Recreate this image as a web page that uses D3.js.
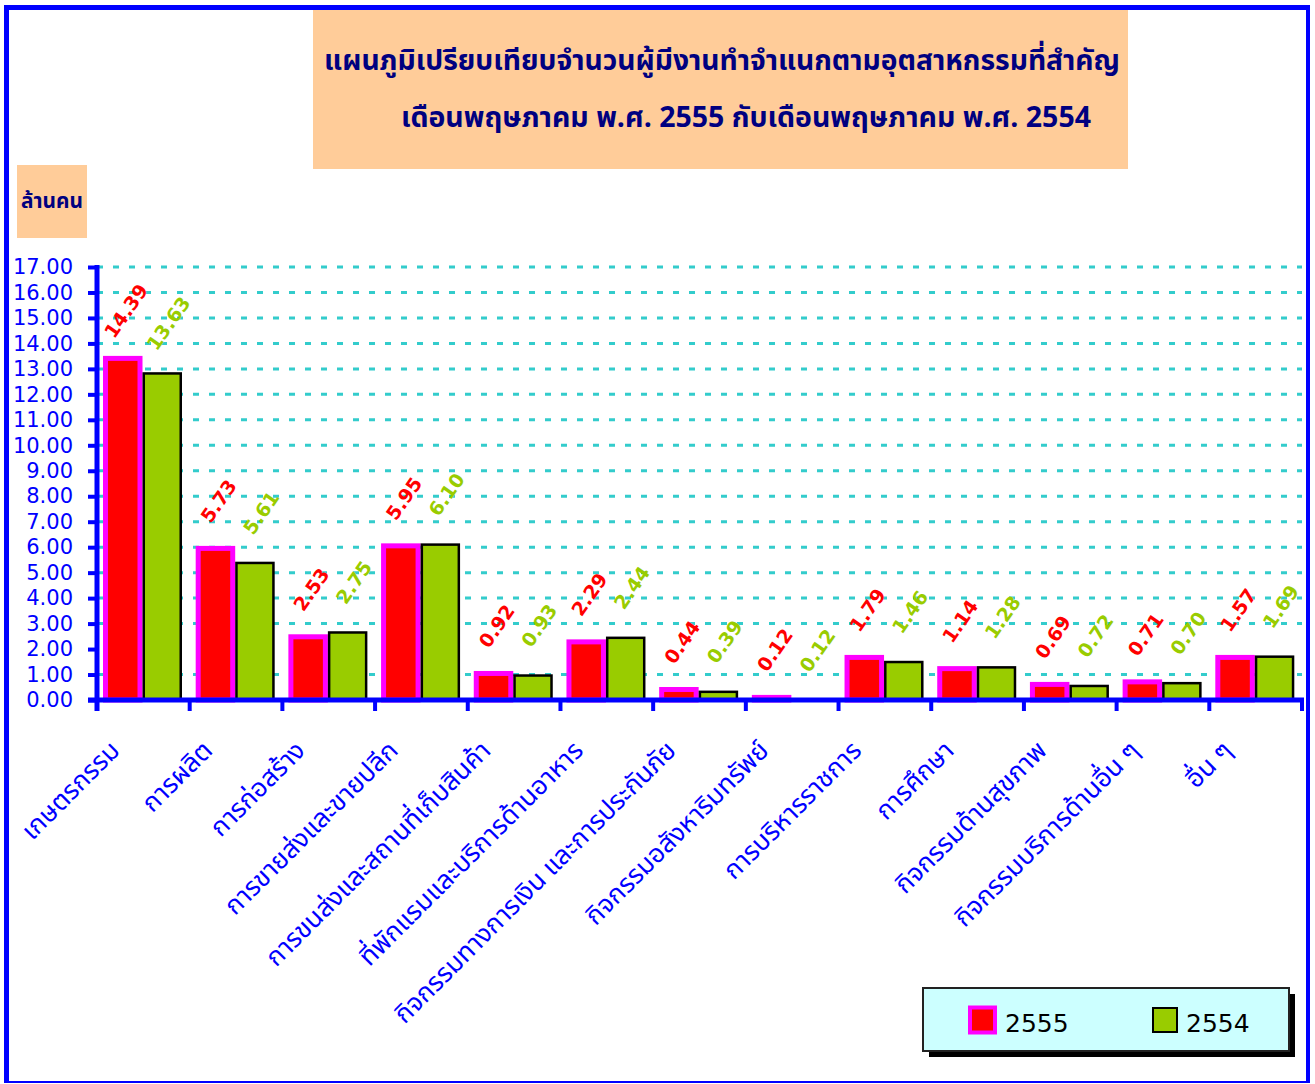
<!DOCTYPE html>
<html><head><meta charset="utf-8">
<script src="https://cdn.jsdelivr.net/npm/d3@7"></script>
<style>body{margin:0;background:#fff} svg{display:block}</style>
</head><body><svg id="c" width="1315" height="1084"></svg>
<script>
// ---------- data ----------
const categories = [
  "เกษตรกรรม","การผลิต","การก่อสร้าง","การขายส่งและขายปลีก",
  "การขนส่งและสถานที่เก็บสินค้า","ที่พักแรมและบริการด้านอาหาร",
  "กิจกรรมทางการเงิน และการประกันภัย","กิจกรรมอสังหาริมทรัพย์",
  "การบริหารราชการ","การศึกษา","กิจกรรมด้านสุขภาพ",
  "กิจกรรมบริการด้านอื่น ๆ","อื่น ๆ"
];
const seriesNames = ["2555","2554"];
// bar heights as drawn in the picture (ล้านคน)
const values2555 = [13.51,6.05,2.58,6.15,1.14,2.38,0.51,0.20,1.77,1.33,0.71,0.81,1.77];
const values2554 = [12.87,5.43,2.70,6.15,1.01,2.49,0.37,0.03,1.54,1.33,0.60,0.71,1.75];
// printed data labels
const labels2555 = ["14.39","5.73","2.53","5.95","0.92","2.29","0.44","0.12","1.79","1.14","0.69","0.71","1.57"];
const labels2554 = ["13.63","5.61","2.75","6.10","0.93","2.44","0.39","0.12","1.46","1.28","0.72","0.70","1.69"];
const yTicks = d3.range(0, 18);
const gridTicks = [1,3,4,5,6,7,8,9,10,11,12,13,14,15,16,17];
const titleLines = ["แผนภูมิเปรียบเทียบจำนวนผู้มีงานทำจำแนกตามอุตสาหกรรมที่สำคัญ",
                    "เดือนพฤษภาคม พ.ศ. 2555 กับเดือนพฤษภาคม พ.ศ. 2554"];
const yAxisTitle = "ล้านคน";

// ---------- layout ----------
const thaiFont = "Tahoma, 'Noto Sans Thai', 'Noto Sans Thai UI', 'Noto Sans', 'DejaVu Sans', sans-serif";
const numFont = "'DejaVu Sans', Verdana, sans-serif";
const svg = d3.select("#c");
const X0 = 97, X1 = 1302, YT = 267, YB = 700;
const x = d3.scaleBand().domain(categories).range([X0, X1]);
const xs = d3.scaleBand().domain(seriesNames).range([6, 85]);
const y = d3.scaleLinear().domain([0, 17]).range([YB, YT]);

function fit(sel, target) {
  const n = sel.node();
  const fs = parseFloat(sel.attr("font-size"));
  const w = n.getComputedTextLength();
  if (w > 0) sel.attr("font-size", (fs * target / w).toFixed(2));
}

// frame
const blue = "#0000FF";
svg.append("line").attr("x1",6.5).attr("x2",6.5).attr("y1",5).attr("y2",1083).attr("stroke",blue).attr("stroke-width",5);
svg.append("line").attr("x1",4).attr("x2",1310).attr("y1",7.5).attr("y2",7.5).attr("stroke",blue).attr("stroke-width",5);
svg.append("line").attr("x1",1308).attr("x2",1308).attr("y1",5).attr("y2",1083).attr("stroke",blue).attr("stroke-width",4);
svg.append("line").attr("x1",4).attr("x2",1310).attr("y1",1082).attr("y2",1082).attr("stroke",blue).attr("stroke-width",2);

// title box
svg.append("rect").attr("x",313).attr("y",10).attr("width",815).attr("height",159).attr("fill","#FFCC99");
const t1 = svg.append("text").attr("x",722).attr("y",70).attr("text-anchor","middle")
  .attr("font-family",thaiFont).attr("font-weight","bold").attr("font-size",28).attr("fill","#000080").text(titleLines[0]);
fit(t1, 796);
const t2 = svg.append("text").attr("x",746).attr("y",127).attr("text-anchor","middle")
  .attr("font-family",thaiFont).attr("font-weight","bold").attr("font-size",28).attr("fill","#000080").text(titleLines[1]);
fit(t2, 690);

// y title box
svg.append("rect").attr("x",17).attr("y",165).attr("width",70).attr("height",73).attr("fill","#FFCC99");
const yt = svg.append("text").attr("x",52).attr("y",208).attr("text-anchor","middle")
  .attr("font-family",thaiFont).attr("font-weight","bold").attr("font-size",18).attr("fill","#000080").text(yAxisTitle);
fit(yt, 62);

// grid
svg.append("g").selectAll("line").data(gridTicks).join("line")
  .attr("x1",X0).attr("x2",X1).attr("y1",d=>y(d)).attr("y2",d=>y(d))
  .attr("stroke","#33CCCC").attr("stroke-width",3).attr("stroke-dasharray","6,10");

// bars
const rows = categories.map((c,i)=>({c, v:[values2555[i],values2554[i]], l:[labels2555[i],labels2554[i]]}));
const bw = xs.bandwidth();
const gBars = svg.append("g");
rows.forEach(r=>{
  const xr = x(r.c) + xs("2555"), xg = x(r.c) + xs("2554");
  gBars.append("rect").attr("x",xr+2.5).attr("y",y(r.v[0])+2.5).attr("width",bw-5)
    .attr("height",Math.max(0,YB-y(r.v[0])-2.5)).attr("fill","#FF0000").attr("stroke","#FF00FF").attr("stroke-width",5);
  gBars.append("rect").attr("x",xg+1.25).attr("y",y(r.v[1])+1.25).attr("width",bw-2.5)
    .attr("height",Math.max(0,YB-y(r.v[1])-1.25)).attr("fill","#99CC00").attr("stroke","#000").attr("stroke-width",2.5);
});

// value labels
const gLab = svg.append("g").attr("font-family",numFont).attr("font-weight","bold").attr("font-size",19);
rows.forEach(r=>{
  [[0,"2555","#FF0000",3,45],[1,"2554","#99CC00",6,49]].forEach(([k,s,col,dx,dy])=>{
    const cx = x(r.c)+xs(s)+bw/2+dx, cy = y(r.v[k])-dy;
    gLab.append("text").attr("transform",`translate(${cx},${cy}) rotate(-55)`)
      .attr("text-anchor","middle").attr("dominant-baseline","central").attr("fill",col).text(r.l[k]);
  });
});

// y axis
const ya = svg.append("g").attr("transform",`translate(${X0},0)`)
  .call(d3.axisLeft(y).tickValues(yTicks).tickFormat(d3.format(".2f")).tickSize(9).tickSizeOuter(0).tickPadding(15));
ya.select(".domain").remove();
ya.selectAll(".tick line").attr("stroke",blue).attr("stroke-width",4);
ya.selectAll(".tick text").attr("fill",blue).attr("font-size",21).attr("font-family",numFont);
svg.append("line").attr("x1",X0).attr("x2",X0).attr("y1",265).attr("y2",711).attr("stroke",blue).attr("stroke-width",5);

// x axis
svg.append("line").attr("x1",88).attr("x2",X1+2).attr("y1",YB).attr("y2",YB).attr("stroke",blue).attr("stroke-width",5);
const xt = categories.map(c=>x(c)).concat([X1]);
svg.append("g").selectAll("line").data(xt).join("line")
  .attr("x1",d=>d).attr("x2",d=>d).attr("y1",YB).attr("y2",711).attr("stroke",blue).attr("stroke-width",4);
svg.append("g").selectAll("text").data(categories).join("text")
  .attr("transform",d=>`translate(${x(d)+x.bandwidth()/2-22},752) rotate(-45)`)
  .attr("text-anchor","end").attr("font-family",thaiFont).attr("font-size",26).attr("fill",blue).text(d=>d);

// legend
svg.append("rect").attr("x",929).attr("y",994).attr("width",366).attr("height",63).attr("fill","#000");
svg.append("rect").attr("x",923).attr("y",988).attr("width",366).attr("height",63).attr("fill","#CCFFFF").attr("stroke","#222").attr("stroke-width",2);
const leg = [{s:"2555",x:968,fill:"#FF0000",stroke:"#FF00FF",sw:4,size:29},{s:"2554",x:1152,fill:"#99CC00",stroke:"#000",sw:2,size:26}];
leg.forEach(L=>{
  svg.append("rect").attr("x",L.x+L.sw/2).attr("y",1007+L.sw/2-(L.size-26)/2).attr("width",L.size-L.sw).attr("height",L.size-L.sw)
    .attr("fill",L.fill).attr("stroke",L.stroke).attr("stroke-width",L.sw);
  svg.append("text").attr("x",L.x+L.size+8).attr("y",1032).attr("font-family",numFont).attr("font-size",25).attr("fill","#000").text(L.s);
});
</script></body></html>
